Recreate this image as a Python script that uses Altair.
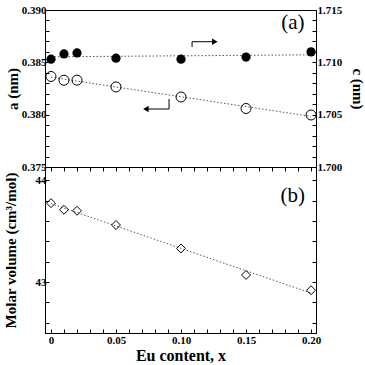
import altair as alt
import pandas as pd

# Eu content and measured lattice / volume data
eu_x = [0.0, 0.01, 0.02, 0.05, 0.10, 0.15, 0.20]
a_nm = [0.38365, 0.38329, 0.38330, 0.38265, 0.38169, 0.38059, 0.37997]
c_nm = [1.7103, 1.7108, 1.7109, 1.7104, 1.7103, 1.7105, 1.7110]
molar_vol = [43.775, 43.71, 43.70, 43.56, 43.33, 43.07, 42.92]

# tick positions (major + minor)
x_ticks = [0.0, 0.01, 0.02, 0.03, 0.04, 0.05, 0.06, 0.07, 0.08, 0.09, 0.10,
           0.11, 0.12, 0.13, 0.14, 0.15, 0.16, 0.17, 0.18, 0.19, 0.20]
a_ticks = [0.375, 0.376, 0.377, 0.378, 0.379, 0.380, 0.381, 0.382, 0.383,
           0.384, 0.385, 0.386, 0.387, 0.388, 0.389, 0.390]
c_ticks = [1.700, 1.701, 1.702, 1.703, 1.704, 1.705, 1.706, 1.707, 1.708,
           1.709, 1.710, 1.711, 1.712, 1.713, 1.714, 1.715]
v_ticks = [42.6, 42.8, 43.0, 43.2, 43.4, 43.6, 43.8, 44.0]

# direction arrows: which axis each series belongs to
arrow_c_x = [0.1085, 0.1085, 0.126]
arrow_c_y = [1.71147, 1.71197, 1.71197]
arrow_a_x = [0.0908, 0.0908, 0.073]
arrow_a_y = [0.38150, 0.38054, 0.38054]

df = pd.DataFrame({"x": eu_x, "a": a_nm, "c": c_nm, "v": molar_vol})

X_DOMAIN = [-0.0046, 0.2038]
W = 271
FONT = "Liberation Serif"
IN_TICK = {"expr": "-4"}


def major(mult, fmt):
    return (f"abs(datum.value*{mult} - round(datum.value*{mult})) < 0.01 ? "
            f"{fmt} : ''")


x_lab = major(20, "(datum.value == 0 ? '0' : format(datum.value, '.2f'))")

x_scale = alt.Scale(domain=X_DOMAIN, nice=False, zero=False)
a_scale = alt.Scale(domain=[0.375, 0.390], nice=False, zero=False)
c_scale = alt.Scale(domain=[1.700, 1.715], nice=False, zero=False)
v_scale = alt.Scale(domain=[42.5, 44.13], nice=False, zero=False)

x_top_axis = alt.Axis(values=x_ticks, labels=False, title=None, tickSize=IN_TICK,
                      domain=True)
x_none = None

base = alt.Chart(df)

# ---- panel (a): lattice parameters ----
a_axis = alt.Axis(values=a_ticks, orient="left",
                  labelExpr=major(200, "format(datum.value, '.3f')"),
                  tickSize=IN_TICK, labelPadding=3, labelOverlap=False,
                  labelFlush=False, title="a (nm)", titleX=-33,
                  titleBaseline="middle")
c_axis = alt.Axis(values=c_ticks, orient="right",
                  labelExpr=major(200, "format(datum.value, '.3f')"),
                  tickSize=IN_TICK, labelPadding=5, labelOverlap=False,
                  labelFlush=False, title="c (nm)", titleX=41,
                  titleBaseline="middle")

a_pts = base.mark_point(shape="circle", size=100, filled=False, color="black",
                        strokeWidth=1, opacity=1).encode(
    x=alt.X("x:Q", scale=x_scale, axis=x_top_axis),
    y=alt.Y("a:Q", scale=a_scale, axis=a_axis),
)
a_fit = base.transform_regression("x", "a").mark_line(
    color="#555", strokeWidth=1, strokeDash=[1.5, 2]).encode(
    x=alt.X("x:Q", scale=x_scale, axis=x_none),
    y=alt.Y("a:Q", scale=a_scale, axis=a_axis),
)
arr_a = pd.DataFrame({"x": arrow_a_x, "a": arrow_a_y, "o": [0, 1, 2]})
a_arrow = alt.Chart(arr_a).mark_line(color="black", strokeWidth=1).encode(
    x=alt.X("x:Q", scale=x_scale, axis=x_none),
    y=alt.Y("a:Q", scale=a_scale, axis=a_axis),
    order="o:O",
)
a_head = alt.Chart(arr_a.iloc[[2]]).mark_point(
    shape="triangle-left", filled=True, color="black", size=40, opacity=1).encode(
    x=alt.X("x:Q", scale=x_scale, axis=x_none),
    y=alt.Y("a:Q", scale=a_scale, axis=a_axis),
)
a_label = alt.Chart(pd.DataFrame({"x": [0.186], "a": [0.38876], "t": ["(a)"]})).mark_text(
    font=FONT, fontSize=21, color="black").encode(
    x=alt.X("x:Q", scale=x_scale, axis=x_none),
    y=alt.Y("a:Q", scale=a_scale, axis=a_axis),
    text="t:N",
)

c_pts = base.mark_point(shape="circle", size=85, filled=True, color="black",
                        opacity=1).encode(
    x=alt.X("x:Q", scale=x_scale, axis=x_none),
    y=alt.Y("c:Q", scale=c_scale, axis=c_axis),
)
c_fit = base.transform_regression("x", "c").mark_line(
    color="#555", strokeWidth=1, strokeDash=[1.5, 2]).encode(
    x=alt.X("x:Q", scale=x_scale, axis=x_none),
    y=alt.Y("c:Q", scale=c_scale, axis=c_axis),
)
arr_c = pd.DataFrame({"x": arrow_c_x, "c": arrow_c_y, "o": [0, 1, 2]})
c_arrow = alt.Chart(arr_c).mark_line(color="black", strokeWidth=1).encode(
    x=alt.X("x:Q", scale=x_scale, axis=x_none),
    y=alt.Y("c:Q", scale=c_scale, axis=c_axis),
    order="o:O",
)
c_head = alt.Chart(arr_c.iloc[[2]]).mark_point(
    shape="triangle-right", filled=True, color="black", size=40, opacity=1).encode(
    x=alt.X("x:Q", scale=x_scale, axis=x_none),
    y=alt.Y("c:Q", scale=c_scale, axis=c_axis),
)

top = alt.layer(
    alt.layer(a_fit, a_pts, a_arrow, a_head, a_label),
    alt.layer(c_fit, c_pts, c_arrow, c_head),
).resolve_scale(y="independent").properties(width=W, height=157)

# ---- panel (b): molar volume ----
x_bot_axis = alt.Axis(values=x_ticks, labelExpr=x_lab, tickSize=IN_TICK,
                      labelPadding=5, labelOverlap=False, labelFlush=False,
                      title="Eu content, x", titlePadding=2, titleFontSize=16)
v_axis = alt.Axis(values=v_ticks, orient="left",
                  labelExpr=major(1, "format(datum.value, '.0f')"),
                  tickSize=IN_TICK, labelPadding=3, labelOverlap=False,
                  labelFlush=False, title="Molar volume (cm³/mol)", titleX=-35,
                  titleBaseline="middle")
v_axis_r = alt.Axis(values=v_ticks, orient="right", labels=False, title=None,
                    tickSize=IN_TICK)

v_pts = base.mark_point(shape="diamond", size=80, filled=False, color="black",
                        strokeWidth=1, opacity=1).encode(
    x=alt.X("x:Q", scale=x_scale, axis=x_bot_axis),
    y=alt.Y("v:Q", scale=v_scale, axis=v_axis),
)
v_fit = base.transform_regression("x", "v").mark_line(
    color="#555", strokeWidth=1, strokeDash=[1.5, 2]).encode(
    x=alt.X("x:Q", scale=x_scale, axis=x_none),
    y=alt.Y("v:Q", scale=v_scale, axis=v_axis_r),
)
v_label = alt.Chart(pd.DataFrame({"x": [0.186], "v": [43.85], "t": ["(b)"]})).mark_text(
    font=FONT, fontSize=21, color="black").encode(
    x=alt.X("x:Q", scale=x_scale, axis=x_none),
    y=alt.Y("v:Q", scale=v_scale, axis=None),
    text="t:N",
)
x_top_ticks = alt.Axis(values=x_ticks, orient="top", labels=False, title=None,
                       tickSize=IN_TICK)
v_ticks_top = base.mark_point(opacity=0).encode(
    x=alt.X("x:Q", scale=x_scale, axis=x_top_ticks),
    y=alt.Y("v:Q", scale=v_scale, axis=None),
)

bottom = alt.layer(v_fit, v_pts, v_label, v_ticks_top).resolve_axis(
    y="independent", x="independent").properties(width=W, height=166)

chart = alt.vconcat(top, bottom, spacing=0, bounds="flush").properties(
    padding={"left": 2, "top": 3, "right": 0, "bottom": 0},
).configure_view(stroke="black", strokeWidth=1).configure_axis(
    domainColor="black", tickColor="black", labelColor="black",
    titleColor="black", labelFont=FONT, titleFont=FONT, labelFontSize=11,
    labelFontWeight="bold", titleFontSize=15, titleFontWeight="bold",
    grid=False, tickWidth=1, domainWidth=1,
).configure_concat(spacing=0)

chart.save("out.html", embed_options={"renderer": "svg", "actions": False})
